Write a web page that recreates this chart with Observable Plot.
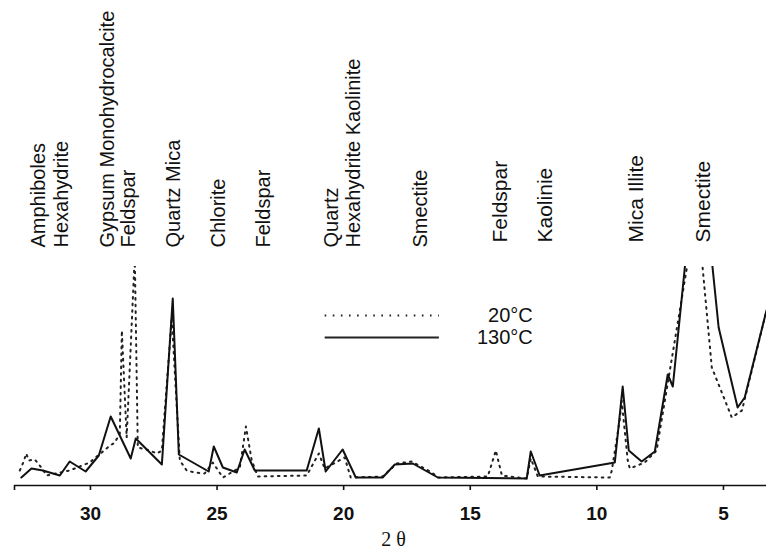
<!DOCTYPE html>
<html>
<head>
<meta charset="utf-8">
<script src="https://cdn.jsdelivr.net/npm/d3@7"></script>
<script src="https://cdn.jsdelivr.net/npm/@observablehq/plot@0.6"></script>
<style>
  html, body { margin: 0; padding: 0; background: #fff; }
  #chart { width: 766px; height: 554px; }
</style>
</head>
<body>
<div id="chart"></div>
<script>
// 2θ positions and intensities (arbitrary units)
const theta130 = [32.73, 32.33, 31.88, 31.21, 30.82, 30.19, 29.67, 29.20, 28.41, 28.21, 27.18, 26.75, 26.51,
  25.33, 25.13, 24.77, 24.22, 23.91, 23.51, 21.46, 20.98, 20.71, 20.04, 19.52, 18.46, 17.98, 17.27, 16.28,
  12.77, 12.61, 12.26, 9.29, 8.98, 8.74, 8.23, 7.71, 7.20, 7.00, 5.98, 5.19, 4.44, 4.16, 3.30];
const int130 = [8, 17, 15, 10, 24, 14, 30, 69, 27, 47, 21, 187, 31,
  14, 39, 18, 13, 36, 15, 15, 57, 14, 36, 8, 8, 21, 22, 8,
  7, 34, 10, 23, 99, 35, 24, 34, 111, 99, 355, 158, 78, 88, 175];

const theta20 = [32.79, 32.67, 32.53, 32.44, 32.20, 31.94, 31.73, 30.82, 30.03, 29.32, 29.04, 28.84, 28.76,
  28.57, 28.25, 28.13, 27.66, 27.38, 27.18, 26.79, 26.47, 26.20, 25.88, 25.49, 25.17, 24.77, 24.10, 23.86,
  23.63, 23.39, 21.46, 20.98, 20.75, 19.96, 19.72, 18.46, 17.90, 17.31, 16.52, 16.28, 14.31, 13.99, 13.75,
  12.77, 12.61, 12.33, 9.49, 9.41, 9.10, 9.02, 8.78, 8.70, 8.11, 7.64, 6.45, 6.05, 5.82, 5.46, 4.67, 4.27, 3.30];
const int20 = [15, 22, 32, 25, 26, 18, 10, 15, 23, 38, 43, 52, 155,
  48, 230, 38, 35, 32, 35, 168, 25, 15, 13, 12, 23, 8, 18, 59,
  25, 9, 10, 32, 17, 28, 8, 9, 22, 24, 13, 8, 9, 35, 10,
  7, 27, 9, 8, 15, 65, 85, 25, 17, 23, 35, 217, 285, 217, 118, 68, 75, 175];

// mineral annotations (2θ position, name)
const mineralPos = [32.34, 31.45, 29.63, 28.80, 27.03, 25.25, 23.47, 20.79, 19.92, 17.27, 14.15, 12.37, 8.78, 6.13];
const mineralNames = ["Amphiboles", "Hexahydrite", "Gypsum Monohydrocalcite", "Feldspar", "Quartz Mica",
  "Chlorite", "Feldspar", "Quartz", "Hexahydrite Kaolinite", "Smectite", "Feldspar", "Kaolinie",
  "Mica Illite", "Smectite"];

const xTicks = [30, 25, 20, 15, 10, 5];
const seriesLabels = ["20°C", "130°C"];
// legend placement in data units
const legendX1 = 20.75, legendX2 = 16.24, legendTextX = 12.53;
const legendY = [170, 148];

const d130 = theta130.map((t, i) => ({t, v: int130[i]}));
const d20 = theta20.map((t, i) => ({t, v: int20[i]}));
const minerals = mineralPos.map((p, i) => ({p, name: mineralNames[i]}));
const upper = minerals.filter(d => d.p > 15);
const lower = minerals.filter(d => d.p <= 15);
const legend = seriesLabels.map((s, i) => ({s, y: legendY[i]}));

const font = "'Liberation Sans', Arial, sans-serif";

const chart = Plot.plot({
  width: 766,
  height: 554,
  marginTop: 266,
  marginBottom: 69,
  marginLeft: 14,
  marginRight: 0,
  style: {fontFamily: font, background: "#fff", color: "#111", overflow: "visible"},
  x: {type: "linear", domain: [33, 3.3]},
  y: {domain: [0, 219], axis: null},
  marks: [
    Plot.ruleY([0], {stroke: "#111", strokeWidth: 1.6}),
    Plot.axisX({ticks: xTicks, tickSize: 5, tickPadding: 16, fontSize: 19, fontWeight: "bold",
      tickFormat: d => String(d), label: null, stroke: "#111", strokeWidth: 1.6, fill: "#111"}),
    Plot.axisX({ticks: [33], tickSize: 5, tickFormat: () => "", label: null, stroke: "#111", strokeWidth: 1.6}),
    Plot.line(d20, {x: "t", y: "v", stroke: "#222", strokeWidth: 2, strokeDasharray: "1.6 5", clip: true}),
    Plot.line(d130, {x: "t", y: "v", stroke: "#111", strokeWidth: 2, clip: true}),
    Plot.link(legend.slice(0, 1), {x1: legendX1, x2: legendX2, y1: "y", y2: "y", stroke: "#222",
      strokeWidth: 2, strokeDasharray: "1.6 6.5"}),
    Plot.link(legend.slice(1), {x1: legendX1, x2: legendX2, y1: "y", y2: "y", stroke: "#222", strokeWidth: 2}),
    Plot.text(legend, {x: legendTextX, y: "y", text: "s", textAnchor: "end", fontSize: 20, fill: "#111"}),
    Plot.text(upper, {x: "p", text: "name", frameAnchor: "top", dy: -19, rotate: -90, textAnchor: "start",
      fontSize: 20, fill: "#111"}),
    Plot.text(lower, {x: "p", text: "name", frameAnchor: "top", dy: -24, rotate: -90, textAnchor: "start",
      fontSize: 21, fill: "#111"}),
    Plot.text(["2 θ"], {text: d => d, frameAnchor: "bottom", dy: 60, dx: 3, fontSize: 20,
      fontFamily: "'Liberation Serif', 'Times New Roman', serif", fill: "#111"})
  ]
});
document.getElementById("chart").appendChild(chart);
</script>
</body>
</html>
